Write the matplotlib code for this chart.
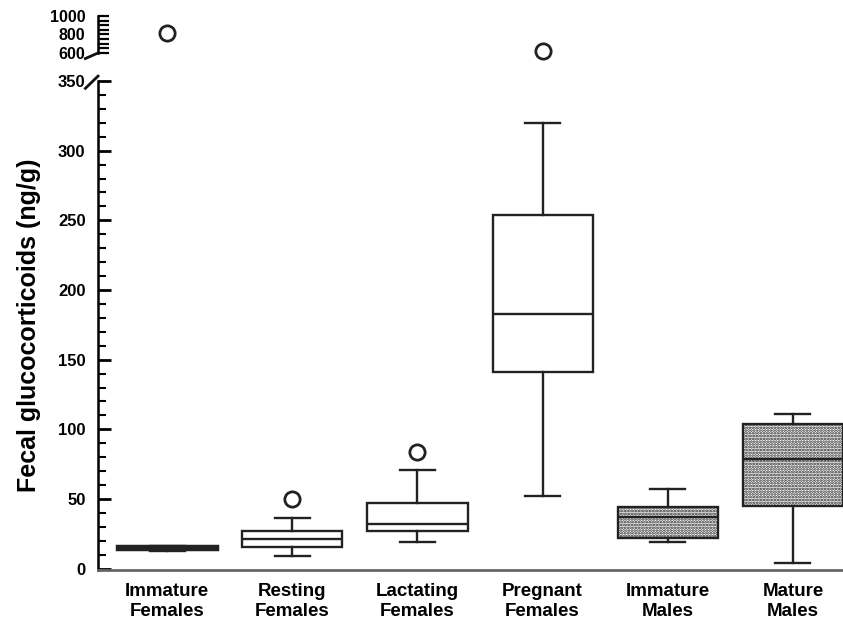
import numpy as np
import matplotlib
matplotlib.use('Agg')
import matplotlib.pyplot as plt
from matplotlib.ticker import MultipleLocator

plt.rcParams['font.family'] = ['Liberation Sans', 'DejaVu Sans']
plt.rcParams['font.weight'] = 'bold'
plt.rcParams['hatch.linewidth'] = 1.3

# ---- data (ng/g) ----
groups = ['Immature\nFemales', 'Resting\nFemales', 'Lactating\nFemales',
          'Pregnant\nFemales', 'Immature\nMales', 'Mature\nMales']
whislo = [13, 9, 19, 52, 19, 4]
q1 = [14, 15.5, 27, 141, 22, 45]
med = [15, 21, 32, 183, 37, 79]
q3 = [16, 27, 47, 254, 44, 104]
whishi = [16, 36, 71, 320, 57, 111]
outliers = [[820], [50], [84], [620], [], []]
stippled = [False, False, False, False, True, True]

stats = []
for i in range(len(groups)):
    stats.append(dict(label=groups[i], whislo=whislo[i], q1=q1[i], med=med[i],
                      q3=q3[i], whishi=whishi[i], fliers=outliers[i]))

fig = plt.figure(figsize=(8.43, 6.24), dpi=100)
ax = fig.add_axes([0.1163, 0.0865, 0.8837, 0.7837])
axt = fig.add_axes([0.1163, 0.9151, 0.8837, 0.0593], sharex=ax)

pos = np.arange(1, len(groups) + 1)
for a in (ax, axt):
    res = a.bxp(stats, positions=pos, widths=0.8, patch_artist=True,
                boxprops=dict(linewidth=1.7, edgecolor='#222222', facecolor='white'),
                medianprops=dict(linewidth=1.7, color='#222222'),
                whiskerprops=dict(linewidth=1.7, color='#222222'),
                capprops=dict(linewidth=1.7, color='#222222'),
                capwidths=0.28,
                flierprops=dict(marker='o', markersize=11, markerfacecolor='white',
                                markeredgecolor='#222222', markeredgewidth=2))
    for b, s in zip(res['boxes'], stippled):
        if s:
            b.set_hatch('......')
    # immature females box is squashed into a thick bar
    res['medians'][0].set_linewidth(3.5)
    res['boxes'][0].set_linewidth(2.5)
    if a is axt:
        for f in res['fliers']:
            if len(f.get_ydata()) and f.get_ydata()[0] >= 600:
                f.set_clip_on(False)

ax.set_xlim(0.448, 6.4)
ax.set_ylim(-1, 350)
axt.set_ylim(600, 1000)

ax.yaxis.set_major_locator(MultipleLocator(50))
ax.yaxis.set_minor_locator(MultipleLocator(10))
ax.tick_params(axis='y', which='major', direction='in', length=9, width=2,
               labelsize=12, pad=9)
ax.tick_params(axis='y', which='minor', direction='in', length=6, width=1.5)
ax.tick_params(axis='x', length=0, labelsize=13.5, pad=9)
ax.set_xticks(pos)
ax.set_xticklabels(groups, fontweight='bold', linespacing=1.25)
for t in ax.get_yticklabels():
    t.set_fontweight('bold')

axt.yaxis.set_major_locator(MultipleLocator(200))
axt.yaxis.set_minor_locator(MultipleLocator(50))
axt.tick_params(axis='y', which='major', direction='in', length=8, width=1.6,
                labelsize=11.5, pad=9)
axt.tick_params(axis='y', which='minor', direction='in', length=8, width=1.6)
axt.tick_params(axis='x', bottom=False, labelbottom=False)
for t in axt.get_yticklabels():
    t.set_fontweight('bold')

for a in (ax, axt):
    a.spines['top'].set_visible(False)
    a.spines['right'].set_visible(False)
    a.spines['left'].set_linewidth(1.8)
    a.patch.set_alpha(0)
axt.spines['bottom'].set_visible(False)
ax.spines['bottom'].set_linewidth(2)
ax.spines['bottom'].set_color('#666666')

# break marks on the y axis
kw = dict(color='#111111', linewidth=2, clip_on=False)
axt.plot([-0.017, 0.0], [-0.15, -0.0], transform=axt.transAxes, **kw)
ax.plot([-0.017, 0.0], [0.985, 1.01], transform=ax.transAxes, **kw)

ax.set_ylabel('Fecal glucocorticoids (ng/g)', fontsize=18, fontweight='bold')
ax.yaxis.set_label_coords(-0.077, 0.5)

plt.savefig('out.png', dpi=100)
